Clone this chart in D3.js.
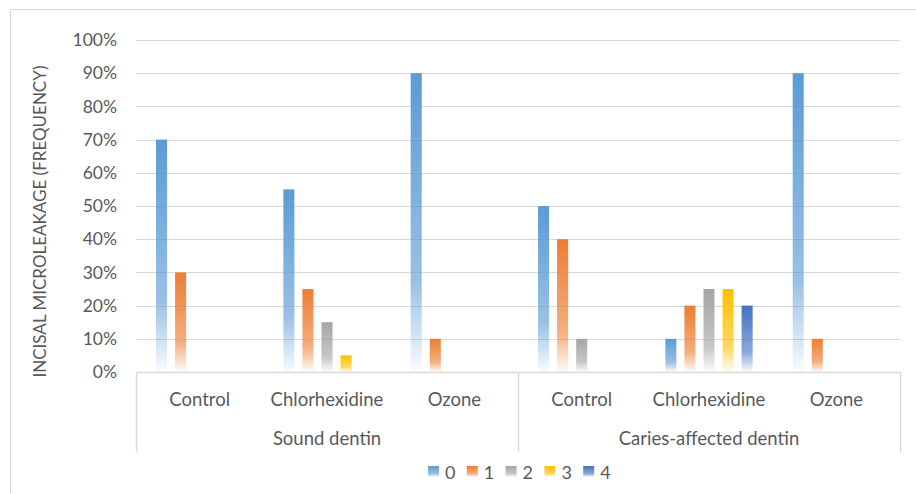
<!DOCTYPE html>
<html>
<head>
<meta charset="utf-8">
<script src="https://cdn.jsdelivr.net/npm/d3@7"></script>
<style>
  html, body { margin: 0; padding: 0; background: #fff; }
  svg { display: block; }
  text { font-family: Lato, "Open Sans", sans-serif; fill: #595959; }
</style>
</head>
<body>
<svg id="chart" width="916" height="494"></svg>
<script>
// Treatments within each dentin type
const groups = ["Sound dentin", "Caries-affected dentin"];
const treatments = ["Control", "Chlorhexidine", "Ozone"];
const scores = ["0", "1", "2", "3", "4"];
const colors = ["#5B9BD5", "#ED7D31", "#A5A5A5", "#FFC000", "#4472C4"];

// Frequency (%) of each microleakage score, per group × treatment
const soundControl = [70, 30, 0, 0, 0];
const soundChlorhexidine = [55, 25, 15, 5, 0];
const soundOzone = [90, 10, 0, 0, 0];
const cariesControl = [50, 40, 10, 0, 0];
const cariesChlorhexidine = [10, 20, 25, 25, 20];
const cariesOzone = [90, 10, 0, 0, 0];

const yTicks = [0, 10, 20, 30, 40, 50, 60, 70, 80, 90, 100];

const rows = [
  { group: groups[0], treatment: treatments[0], values: soundControl },
  { group: groups[0], treatment: treatments[1], values: soundChlorhexidine },
  { group: groups[0], treatment: treatments[2], values: soundOzone },
  { group: groups[1], treatment: treatments[0], values: cariesControl },
  { group: groups[1], treatment: treatments[1], values: cariesChlorhexidine },
  { group: groups[1], treatment: treatments[2], values: cariesOzone }
];
rows.forEach((r, i) => r.key = "c" + i);

const svg = d3.select("#chart");
const plotLeft = 136, plotRight = 900, plotTop = 40, plotBottom = 372;

// Outer chart frame
svg.append("rect")
  .attr("x", 10.5).attr("y", 9.5).attr("width", 920).attr("height", 500)
  .attr("fill", "none").attr("stroke", "#D9D9D9").attr("stroke-width", 1);

// Gradient fills: solid at the top of each bar, fading toward the base
const defs = svg.append("defs");
colors.forEach((c, i) => {
  const g = defs.append("linearGradient")
    .attr("id", "grad" + i)
    .attr("x1", 0).attr("y1", 0).attr("x2", 0).attr("y2", 1);
  g.append("stop").attr("offset", "0%").attr("stop-color", c).attr("stop-opacity", 1);
  g.append("stop").attr("offset", "70%").attr("stop-color", c).attr("stop-opacity", 0.62);
  g.append("stop").attr("offset", "100%").attr("stop-color", c).attr("stop-opacity", 0.03);
});

const x0 = d3.scaleBand().domain(rows.map(r => r.key)).range([plotLeft, plotRight]).padding(0);
const x1 = d3.scaleBand().domain(scores).range([0, x0.bandwidth()]).paddingInner(0.42).paddingOuter(1.05);
const y = d3.scaleLinear().domain([0, 100]).range([plotBottom, plotTop]);

// Horizontal gridlines
svg.append("g").selectAll("line").data(yTicks.filter(t => t > 0)).join("line")
  .attr("x1", plotLeft).attr("x2", plotRight)
  .attr("y1", d => Math.round(y(d)) + 0.5).attr("y2", d => Math.round(y(d)) + 0.5)
  .attr("stroke", "#D9D9D9").attr("stroke-width", 1);

// Y axis tick labels
const yAxis = d3.axisLeft(y).tickValues(yTicks).tickFormat(d => d + "%").tickSize(0).tickPadding(19);
const ya = svg.append("g").attr("transform", `translate(${plotLeft},0)`).call(yAxis);
ya.select(".domain").remove();
ya.selectAll("text").style("font-size", "17.5px").attr("fill", "#595959")
  .style("font-family", "Lato, 'Open Sans', sans-serif");

// Y axis title
svg.append("text")
  .attr("transform", `translate(46,221.5) rotate(-90)`)
  .attr("text-anchor", "middle")
  .style("font-size", "17px")
  .text("INCISAL MICROLEAKAGE (FREQUENCY)");

// Bars
const cat = svg.append("g").selectAll("g").data(rows).join("g")
  .attr("transform", d => `translate(${x0(d.key)},0)`);
cat.selectAll("rect").data(d => d.values.map((v, i) => ({ v, i })).filter(d => d.v > 0)).join("rect")
  .attr("x", d => x1(scores[d.i]))
  .attr("y", d => y(d.v))
  .attr("width", x1.bandwidth())
  .attr("height", d => y(0) - y(d.v))
  .attr("fill", d => `url(#grad${d.i})`);

// Category axis: baseline and group dividers
const axisColor = "#D9D9D9";
svg.append("line").attr("x1", plotLeft).attr("x2", plotRight)
  .attr("y1", plotBottom + 0.5).attr("y2", plotBottom + 0.5)
  .attr("stroke", axisColor).attr("stroke-width", 1.5);
const dividers = [x0(rows[0].key), x0(rows[3].key), x0(rows[5].key) + x0.bandwidth()];
svg.append("g").selectAll("line").data(dividers).join("line")
  .attr("x1", d => Math.round(d) + 0.5).attr("x2", d => Math.round(d) + 0.5)
  .attr("y1", plotBottom).attr("y2", 452)
  .attr("stroke", axisColor).attr("stroke-width", 1.5);

// Treatment labels
svg.append("g").selectAll("text").data(rows).join("text")
  .attr("x", d => x0(d.key) + x0.bandwidth() / 2)
  .attr("y", 405.5)
  .attr("text-anchor", "middle")
  .style("font-size", "18.5px")
  .text(d => d.treatment);

// Dentin-type labels
svg.append("g").selectAll("text").data(groups).join("text")
  .attr("x", (d, i) => x0(rows[i * 3 + 1].key) + x0.bandwidth() / 2)
  .attr("y", 444.5)
  .attr("text-anchor", "middle")
  .style("font-size", "18.5px")
  .text(d => d);

// Legend
const legend = svg.append("g").selectAll("g").data(scores).join("g")
  .attr("transform", (d, i) => `translate(${428 + i * 38.8},466)`);
legend.append("rect").attr("width", 11).attr("height", 11)
  .attr("fill", (d, i) => `url(#grad${i})`);
legend.append("text").attr("x", 17).attr("y", 12.5)
  .style("font-size", "18px")
  .text(d => d);
</script>
</body>
</html>
